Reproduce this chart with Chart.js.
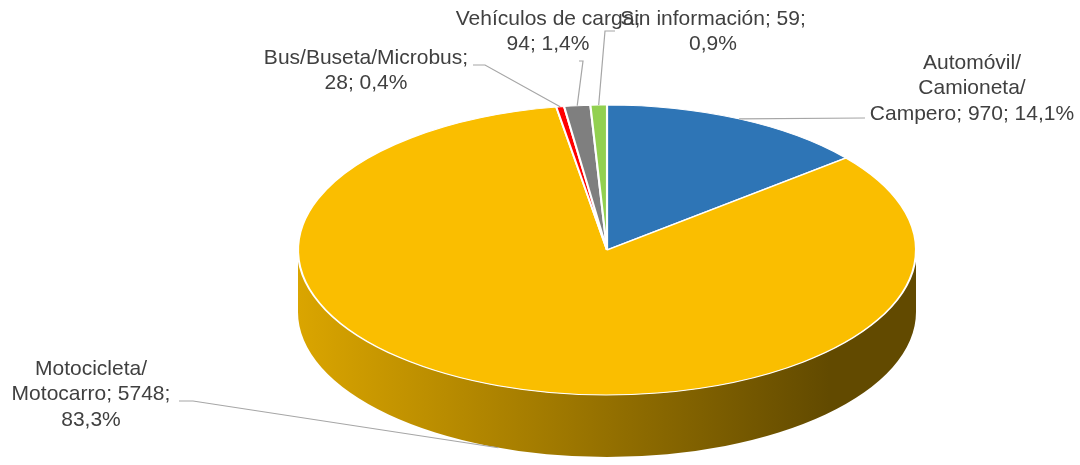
<!DOCTYPE html>
<html>
<head>
<meta charset="utf-8">
<title>Vehículos por tipo</title>
<script src="https://cdn.jsdelivr.net/npm/chart.js"></script>
<style>
  html, body { margin: 0; padding: 0; background: #fff; }
  #wrap { position: relative; width: 1080px; height: 465px; }
</style>
</head>
<body>
<div id="wrap"><canvas id="chartPie"></canvas></div>
<script>
  // data
  const categories = ['Automóvil/\nCamioneta/\nCampero', 'Motocicleta/\nMotocarro', 'Bus/Buseta/Microbus', 'Vehículos de carga', 'Sin información'];
  const values = [970, 5748, 28, 94, 59];
  const percents = ['14,1%', '83,3%', '0,4%', '1,4%', '0,9%'];
  const colors = ['#2E75B6', '#FABE00', '#FF0000', '#7F7F7F', '#92D050'];

  // 3D look: ellipse radii and wall height
  const RX = 309, RY = 145, DEPTH = 62;

  // label boxes: centre x, first line middle y, where the line break goes, leader start/elbow
  const labelLayout = [
    { x: 972, y: 63, brk: 'none', from: [865, 118] },
    { x: 91, y: 369, brk: 'val', from: [179, 401], elbow: [193, 401], onWall: true },
    { x: 366, y: 58, brk: 'cat', from: [473, 65], elbow: [485, 65] },
    { x: 548, y: 19, brk: 'cat', from: [579, 61], elbow: [583, 61] },
    { x: 713, y: 19, brk: 'val', from: [615, 31], elbow: [605, 31] }
  ];

  function shade(hex, f) {
    const n = parseInt(hex.slice(1), 16);
    const r = Math.round(((n >> 16) & 255) * f), g = Math.round(((n >> 8) & 255) * f), b = Math.round((n & 255) * f);
    return `rgb(${r},${g},${b})`;
  }

  function drawWall(ctx, cx, cy, s, e, color) {
    const g = ctx.createLinearGradient(cx - RX, 0, cx + RX * 0.72, 0);
    g.addColorStop(0, shade(color, 0.87));
    g.addColorStop(1, shade(color, 0.39));
    ctx.beginPath();
    ctx.ellipse(cx, cy, RX, RY, 0, s, e);
    ctx.lineTo(cx + RX * Math.cos(e), cy + RY * Math.sin(e) + DEPTH);
    ctx.ellipse(cx, cy + DEPTH, RX, RY, 0, e, s, true);
    ctx.closePath();
    ctx.fillStyle = g;
    ctx.fill();
  }

  const pie3d = {
    id: 'pie3d',
    beforeDatasetsDraw(chart) {
      const ctx = chart.ctx;
      const arcs = chart.getDatasetMeta(0).data;
      const { x: cx, y: cy, outerRadius: r } = arcs[0];
      // only the front half of the wall is visible (canvas angles 0..PI)
      arcs.forEach((arc, i) => {
        [-2, 0, 2].forEach(k => {
          const s = Math.max(arc.startAngle + k * Math.PI, 0);
          const e = Math.min(arc.endAngle + k * Math.PI, Math.PI);
          if (e > s) drawWall(ctx, cx, cy, s, e, colors[i]);
        });
      });
      // flatten the top face into an ellipse
      ctx.save();
      ctx.translate(cx, cy);
      ctx.scale(RX / r, RY / r);
      ctx.translate(-cx, -cy);
    },
    afterDatasetsDraw(chart) {
      chart.ctx.restore();
    },
    afterDraw(chart) {
      const ctx = chart.ctx;
      const arcs = chart.getDatasetMeta(0).data;
      const { x: cx, y: cy } = arcs[0];
      ctx.save();
      // leader lines
      ctx.strokeStyle = '#A6A6A6';
      ctx.lineWidth = 1.2;
      labelLayout.forEach((L, i) => {
        const arc = arcs[i];
        const m = (arc.startAngle + arc.endAngle) / 2;
        const ax = cx + RX * Math.cos(m);
        const ay = cy + RY * Math.sin(m) + (L.onWall ? DEPTH : 0);
        ctx.beginPath();
        ctx.moveTo(L.from[0], L.from[1]);
        if (L.elbow) ctx.lineTo(L.elbow[0], L.elbow[1]);
        ctx.lineTo(ax, ay);
        ctx.stroke();
      });
      // label text
      ctx.font = '21px "Liberation Sans", Arial, sans-serif';
      ctx.fillStyle = '#404040';
      ctx.textAlign = 'center';
      ctx.textBaseline = 'middle';
      labelLayout.forEach((L, i) => {
        let txt;
        if (L.brk === 'cat') txt = `${categories[i]};\n${values[i]}; ${percents[i]}`;
        else if (L.brk === 'val') txt = `${categories[i]}; ${values[i]};\n${percents[i]}`;
        else txt = `${categories[i]}; ${values[i]}; ${percents[i]}`;
        txt.split('\n').forEach((ln, j) => ctx.fillText(ln, L.x, L.y + j * 25.5));
      });
      ctx.restore();
    }
  };

  new Chart(document.getElementById('chartPie'), {
    type: 'pie',
    data: {
      labels: categories,
      datasets: [{
        data: values,
        backgroundColor: colors,
        borderColor: '#ffffff',
        borderWidth: 1
      }]
    },
    options: {
      responsive: true,
      maintainAspectRatio: false,
      animation: false,
      events: [],
      layout: { padding: { top: 105, bottom: 70, left: 462, right: 328 } },
      plugins: {
        legend: { display: false },
        tooltip: { enabled: false }
      }
    },
    plugins: [pie3d]
  });
</script>
</body>
</html>
